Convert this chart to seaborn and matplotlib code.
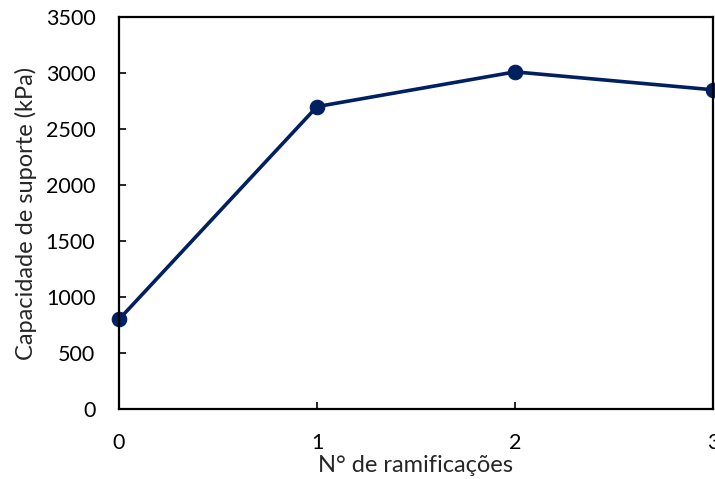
import matplotlib
matplotlib.use("Agg")
import matplotlib.pyplot as plt
import seaborn as sns
import pandas as pd

ramificacoes = [0, 1, 2, 3]
capacidade = [800, 2700, 3010, 2850]
y_ticks = [0, 500, 1000, 1500, 2000, 2500, 3000, 3500]
x_ticks = [0, 1, 2, 3]

sns.set_style("white")
plt.rcParams['font.family'] = ['Lato', 'DejaVu Sans']

df = pd.DataFrame({"x": ramificacoes, "y": capacidade})

fig = plt.figure(figsize=(7.15, 4.79), dpi=100)
ax = fig.add_axes([119/715, 70/479, 594/715, 392/479])
sns.lineplot(data=df, x="x", y="y", ax=ax, color="#002060", linewidth=2.6,
             marker="o", markersize=10.5, markeredgecolor="#002060", clip_on=False)
ax.set_xlim(0, 3)
ax.set_ylim(0, 3500)
ax.set_xticks(x_ticks)
ax.set_yticks(y_ticks)
ax.tick_params(direction="in", length=5, width=1.2, labelsize=15.5, colors="black",
               bottom=True, left=True)
ax.tick_params(axis="x", pad=17)
ax.tick_params(axis="y", pad=17)
for s in ax.spines.values():
    s.set_color("black")
    s.set_linewidth(1.6)
ax.set_xlabel("N° de ramificações", fontsize=17, labelpad=2)
ax.set_ylabel("Capacidade de suporte (kPa)", fontsize=17, labelpad=6)
fig.savefig("out.png", dpi=100)
